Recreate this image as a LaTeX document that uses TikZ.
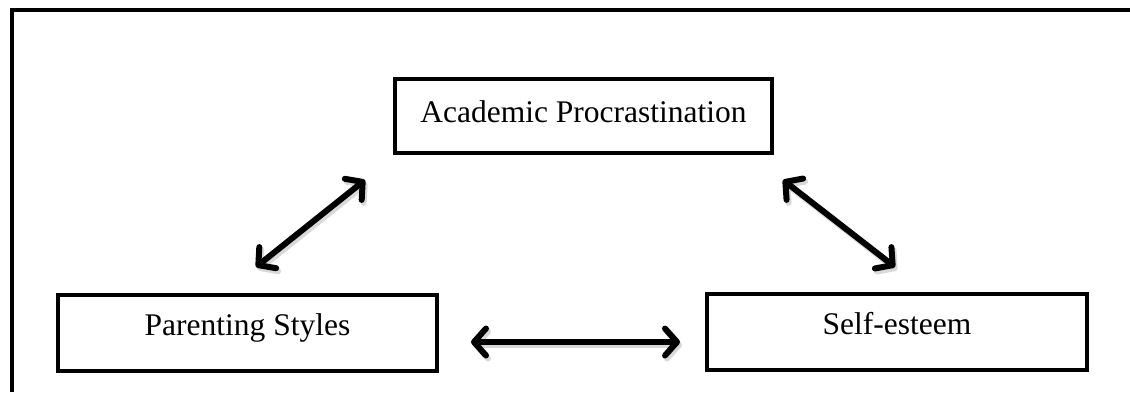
\documentclass[tikz,border=0pt]{standalone}
\usepackage{fontspec}
\setmainfont{Liberation Serif}
\usetikzlibrary{arrows.meta}
\begin{document}
\begin{tikzpicture}[x=1pt,y=-1pt,
  box/.style={draw=black, line width=4.5pt, inner sep=0pt, align=center, anchor=base,
    font=\fontsize{31.5}{38}\selectfont, text height=40pt, text depth=36pt},
  barb/.tip={Straight Barb[length=12pt,width=27pt,line width=6pt,round]},
  rel/.style={line width=6pt, line cap=round, barb-barb},
  relshadow/.style={rel, draw=black!25, opacity=0.6, transform canvas={shift={(2pt,-3pt)}}}]
\useasboundingbox (0,0) rectangle (1130,392);
\draw[line width=3.5pt] (12,392) -- (12,10) -- (1132,10);
\node[box, minimum width=377pt, text height=43pt, text depth=31pt] (ap) at (583.5,122) {Academic Procrastination};
\node[box, minimum width=379pt] (ps) at (247.5,335) {Parenting Styles};
\node[box, minimum width=380pt] (se) at (897,334) {Self-esteem};
\coordinate (l1) at (256,267);
\coordinate (l2) at (365,180);
\coordinate (r1) at (783,180);
\coordinate (r2) at (895,267);
\coordinate (h1) at (471,342);
\coordinate (h2) at (680,342);
\draw[relshadow] (l1) -- (l2);
\draw[relshadow] (r1) -- (r2);
\draw[relshadow] (h1) -- (h2);
\draw[rel] (l1) -- (l2);
\draw[rel] (r1) -- (r2);
\draw[rel] (h1) -- (h2);
\end{tikzpicture}
\end{document}
